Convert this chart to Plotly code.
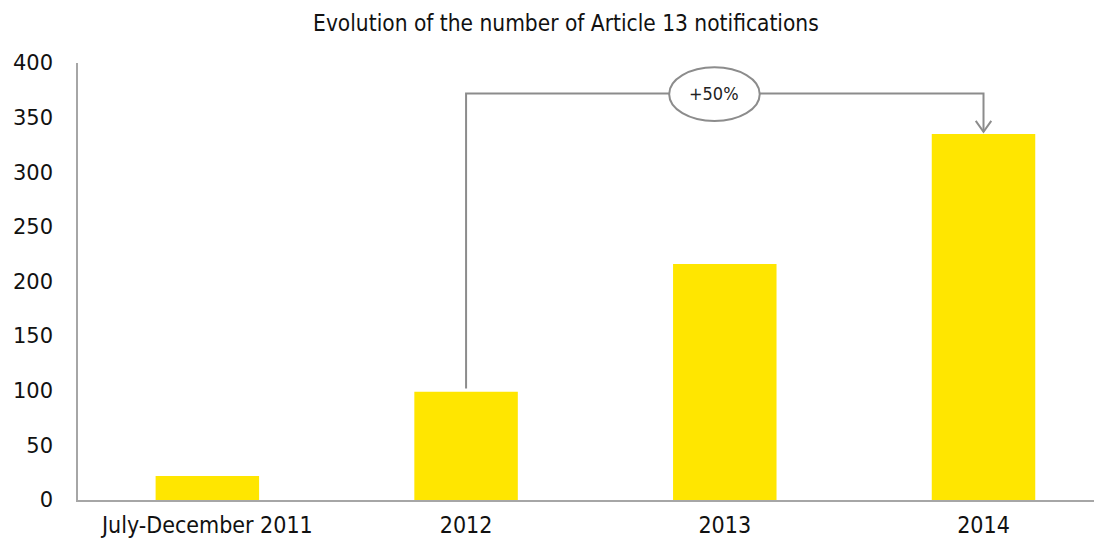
import plotly.graph_objects as go

categories = ["July-December 2011", "2012", "2013", "2014"]
values = [22, 99, 216, 335]
title_text = "Evolution of the number of Article 13 notifications"
growth_label = "+50%"
y_ticks = [0, 50, 100, 150, 200, 250, 300, 350, 400]

BAR_COLOR = "#FFE600"
GRAY = "#8C8C8C"
COND = "DejaVu Sans Condensed, DejaVu Sans"

fig = go.Figure()
fig.add_trace(go.Bar(
    x=list(range(len(categories))), y=values,
    marker=dict(color=BAR_COLOR, line=dict(width=0)),
    width=0.4, hoverinfo="skip",
))

# connector from 2012 to 2014
i0, i1 = 1, 3
line_y = 372
fig.add_shape(type="path",
              path=f"M {i0},{values[i0] + 3} L {i0},{line_y} L {i1},{line_y} L {i1},{values[i1] + 2}",
              xref="x", yref="y", line=dict(color=GRAY, width=2))
# open arrowhead
fig.add_shape(type="path",
              path=f"M {i1 - 0.03},{values[i1] + 12} L {i1},{values[i1] + 2} L {i1 + 0.03},{values[i1] + 12}",
              xref="x", yref="y", line=dict(color=GRAY, width=2))
# ellipse with label
cx = 1.96
fig.add_shape(type="circle", xref="x", yref="y",
              x0=cx - 0.175, x1=cx + 0.175, y0=347, y1=396,
              line=dict(color=GRAY, width=2), fillcolor="white")
fig.add_annotation(x=cx, y=372, text=growth_label, showarrow=False,
                   font=dict(family=COND, size=18, color="#222"))

# page body has an 8px margin; size the figure so the visible area matches
fig.update_layout(
    width=1094, height=535,
    paper_bgcolor="white", plot_bgcolor="white",
    margin=dict(l=70, r=0, t=55, b=43),
    showlegend=False,
    title=dict(text=title_text, x=0.51, xanchor="center", y=0.972, yanchor="middle",
               font=dict(family=COND, size=22.5, color="#111")),
    xaxis=dict(range=[-0.5, 3.458], tickmode="array", tickvals=list(range(len(categories))),
               ticktext=categories, showgrid=False, zeroline=False, automargin=False,
               showline=True, linecolor="#A6A6A6", linewidth=1.5, ticks="",
               tickfont=dict(family=COND, size=23, color="#111"),
               ticklabelstandoff=4),
    yaxis=dict(range=[0, 400], tickmode="array", tickvals=y_ticks, showgrid=False,
               zeroline=False, showline=True, linecolor="#A6A6A6", linewidth=1.5, ticks="",
               automargin=False,
               tickfont=dict(family="Verdana, DejaVu Sans", size=21, color="#111"),
               ticklabelstandoff=19),
)

fig.write_html("out.html")
